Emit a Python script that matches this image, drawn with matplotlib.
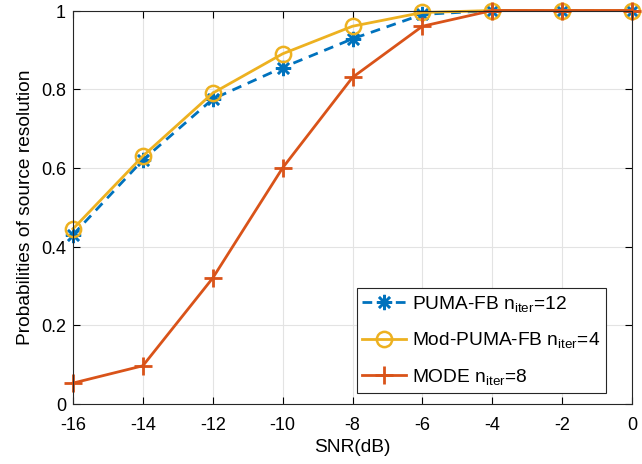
import matplotlib
matplotlib.use("Agg")
import matplotlib.pyplot as plt

plt.rcParams['font.family'] = ['Liberation Sans', 'DejaVu Sans']
plt.rcParams['mathtext.fontset'] = 'custom'
plt.rcParams['mathtext.rm'] = 'Liberation Sans'

snr = [-16, -14, -12, -10, -8, -6, -4, -2, 0]
puma_fb = [0.43, 0.62, 0.775, 0.855, 0.928, 0.99, 1.0, 1.0, 1.0]
mod_puma_fb = [0.445, 0.63, 0.79, 0.89, 0.96, 0.995, 1.0, 1.0, 1.0]
mode = [0.053, 0.097, 0.32, 0.60, 0.83, 0.96, 1.0, 1.0, 1.0]
xticks = [-16, -14, -12, -10, -8, -6, -4, -2, 0]
yticks = [0, 0.2, 0.4, 0.6, 0.8, 1.0]
ytick_labels = ['0', '0.2', '0.4', '0.6', '0.8', '1']

W, H = 642, 464
fig = plt.figure(figsize=(6.42, 4.645), dpi=100)
ax = fig.add_axes([73 / W, (H - 404) / H, (632 - 73) / W, (404 - 11) / H])

ax.plot(snr, puma_fb, color='#0072BD', linestyle='--', linewidth=2, marker=(8, 2, 0),
        markersize=11, markeredgewidth=1.8, label=r'PUMA-FB n$_{\mathrm{iter}}$=12',
        dashes=(3.5, 2.5), clip_on=False)
ax.plot(snr, mod_puma_fb, color='#EDB120', linestyle='-', linewidth=2, marker='o',
        markersize=11, markerfacecolor='none', markeredgewidth=1.8,
        label=r'Mod-PUMA-FB n$_{\mathrm{iter}}$=4', clip_on=False)
ax.plot(snr, mode, color='#D95319', linestyle='-', linewidth=2, marker='+',
        markersize=13, markeredgewidth=2, label=r'MODE n$_{\mathrm{iter}}$=8', clip_on=False)

ax.set_xlim(-16, 0)
ax.set_ylim(0, 1)
ax.set_xticks(xticks)
ax.set_xticklabels([str(x) for x in xticks])
ax.set_yticks(yticks)
ax.set_yticklabels(ytick_labels)
ax.tick_params(direction='in', labelsize=13, length=5, top=True, right=True)
ax.tick_params(axis='x', pad=9)
ax.tick_params(axis='y', pad=5)
ax.grid(True, color='#e3e3e3', linewidth=0.8)
ax.set_axisbelow(True)
for s in ax.spines.values():
    s.set_color('#262626')
    s.set_linewidth(0.8)

ax.set_xlabel('SNR(dB)', fontsize=13.75, labelpad=4)
ax.set_ylabel('Probabilities of source resolution', fontsize=13.75, labelpad=5)

leg = ax.legend(loc='lower right', fontsize=13.75, fancybox=False, edgecolor='#262626',
                framealpha=1, handlelength=2.3, handletextpad=0.3, labelspacing=0.85,
                borderpad=0.3, borderaxespad=0.0,
                bbox_to_anchor=(606 / W, (H - 393) / H),
                bbox_transform=fig.transFigure)
leg.get_frame().set_linewidth(0.8)

fig.savefig('out.png', dpi=100)
